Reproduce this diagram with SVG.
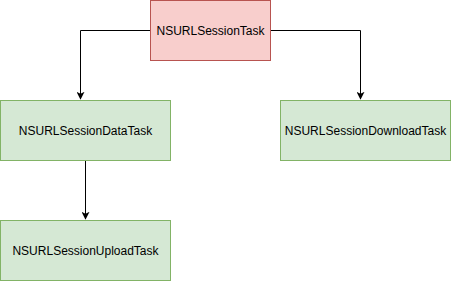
<svg xmlns="http://www.w3.org/2000/svg" width="451" height="281" viewBox="0 0 451 281">
<defs>
<style>
.red{fill:#f8cecc;stroke:#b85450;stroke-width:1}
.green{fill:#d5e8d4;stroke:#82b366;stroke-width:1}
.lbl{font-family:"Liberation Sans",Arial,sans-serif;font-size:12px;fill:#000;text-anchor:middle;dominant-baseline:central}
.edge{fill:none;stroke:#000;stroke-width:1}
</style>
<marker id="arr" viewBox="0 0 10 10" refX="9" refY="5" markerWidth="8" markerHeight="8" markerUnits="userSpaceOnUse" orient="auto">
<path d="M0,0 L10,5 L0,10 L2.5,5 Z" fill="#000"/>
</marker>
</defs>
<rect width="451" height="281" fill="#fff"/>
<g id="edges">
<path class="edge" d="M150.5,30.5 H80.5 V99" marker-end="url(#arr)"/>
<path class="edge" d="M270.5,30.5 H360.5 V99" marker-end="url(#arr)"/>
<path class="edge" d="M85.5,160.5 V219" marker-end="url(#arr)"/>
</g>
<g id="task">
<rect class="red" x="150.5" y="0.5" width="120" height="60"/>
<text class="lbl" x="210.5" y="31">NSURLSessionTask</text>
</g>
<g id="data">
<rect class="green" x="0.5" y="100.5" width="170" height="60"/>
<text class="lbl" x="85.5" y="131">NSURLSessionDataTask</text>
</g>
<g id="download">
<rect class="green" x="280.5" y="100.5" width="170" height="60"/>
<text class="lbl" x="365.5" y="131">NSURLSessionDownloadTask</text>
</g>
<g id="upload">
<rect class="green" x="0.5" y="220.5" width="170" height="60"/>
<text class="lbl" x="85.5" y="251">NSURLSessionUploadTask</text>
</g>
</svg>
